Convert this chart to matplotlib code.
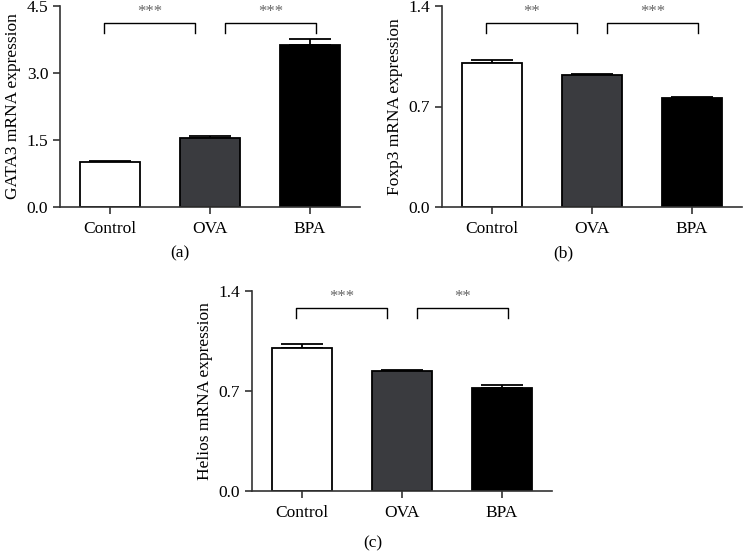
import matplotlib
matplotlib.use('Agg')
import matplotlib.pyplot as plt

plt.rcParams['font.family'] = ['Liberation Serif', 'DejaVu Serif']

groups = ['Control', 'OVA', 'BPA']
bar_colors = ['white', '#3a3b3f', 'black']

gata3_mean = [1.0, 1.54, 3.62]
gata3_err = [0.03, 0.04, 0.15]
foxp3_mean = [1.005, 0.916, 0.756]
foxp3_err = [0.018, 0.007, 0.009]
helios_mean = [1.004, 0.839, 0.724]
helios_err = [0.023, 0.009, 0.019]

gata3_sig = ['***', '***']
foxp3_sig = ['**', '***']
helios_sig = ['***', '**']


def panel(rect, means, errs, ylabel, ymax, yticks, sig, br_y, br_leg, star_y, tag, tag_pos):
    ax = fig.add_axes(rect)
    x = range(len(groups))
    ax.bar(x, means, width=0.6, color=bar_colors, edgecolor='black', linewidth=1.3, zorder=2)
    for i in x:
        ax.errorbar(i, means[i], yerr=[[0], [errs[i]]], fmt='none', ecolor='black',
                    elinewidth=1.3, capsize=15, capthick=1.3, zorder=1)
    ax.set_xlim(-0.5, 2.5)
    ax.set_ylim(0, ymax)
    ax.set_yticks(yticks)
    ax.set_yticklabels(['%.1f' % t for t in yticks])
    ax.set_xticks(list(x))
    ax.set_xticklabels(groups)
    ax.set_ylabel(ylabel, fontsize=12.5, labelpad=4)
    for s in ['top', 'right']:
        ax.spines[s].set_visible(False)
    for s in ['left', 'bottom']:
        ax.spines[s].set_linewidth(1.2)
        ax.spines[s].set_color('#333333')
    ax.tick_params(labelsize=12.5, width=1.2, length=5, color='#333333')
    ax.tick_params(axis='x', pad=5)
    # significance brackets
    pairs = [(-0.06, 0.85), (1.15, 2.06)]
    for (a, b), s in zip(pairs, sig):
        ax.plot([a, a, b, b], [br_leg, br_y, br_y, br_leg], color='black', lw=1.0, clip_on=False)
        ax.text((a + b) / 2, star_y, s, ha='center', va='center', fontsize=12, color='#666666')
    fig.text(tag_pos[0], tag_pos[1], tag, ha='center', va='center', fontsize=12.5)
    return ax


fig = plt.figure(figsize=(7.44, 5.53), dpi=100)
W, H = 744, 553

panel([60 / W, (H - 207) / H, 300 / W, 201 / H], gata3_mean, gata3_err,
      'GATA3 mRNA expression', 4.5, [0.0, 1.5, 3.0, 4.5], gata3_sig,
      4.11, 3.9, 4.36, '(a)', (180 / W, (H - 253) / H))
panel([442 / W, (H - 207) / H, 300 / W, 201 / H], foxp3_mean, foxp3_err,
      'Foxp3 mRNA expression', 1.4, [0.0, 0.7, 1.4], foxp3_sig,
      1.279, 1.214, 1.355, '(b)', (563 / W, (H - 253) / H))
panel([252 / W, (H - 491) / H, 300 / W, 200 / H], helios_mean, helios_err,
      'Helios mRNA expression', 1.4, [0.0, 0.7, 1.4], helios_sig,
      1.281, 1.214, 1.355, '(c)', (373 / W, (H - 543) / H))

fig.savefig('out.png', dpi=100)
